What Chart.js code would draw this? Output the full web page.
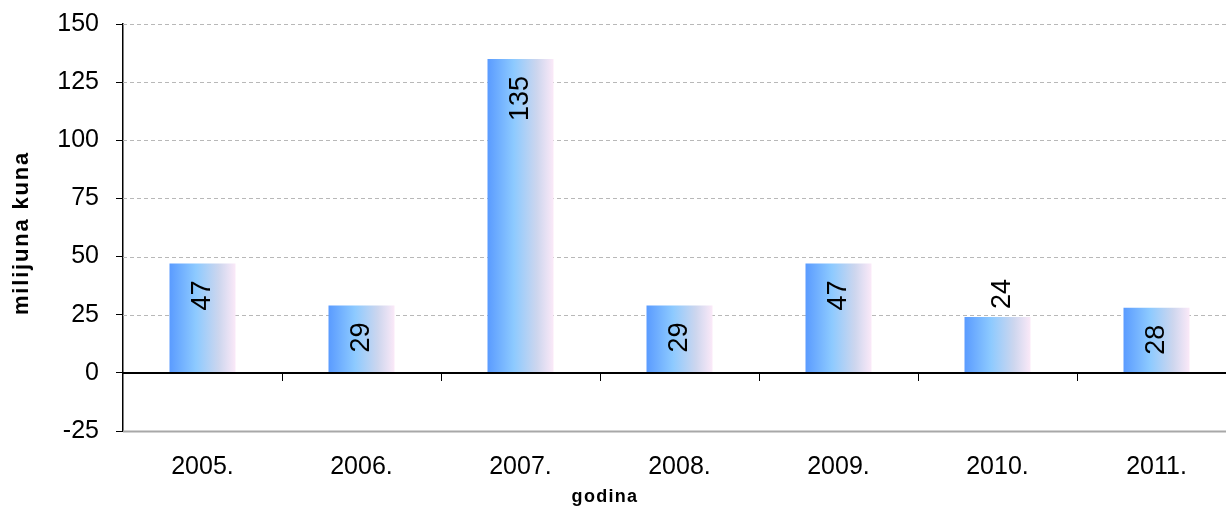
<!DOCTYPE html>
<html lang="hr">
<head>
    <meta charset="UTF-8">
    <title>milijuna kuna</title>
    <script src="https://cdn.jsdelivr.net/npm/chart.js"></script>
    <style>
        html, body { margin: 0; padding: 0; overflow: hidden; background: #fff; }
        canvas { display: block; }
    </style>
</head>
<body>
    <canvas id="barChart" width="1240" height="508"></canvas>
</body>
</html>
<script>
// data
var years = ['2005.', '2006.', '2007.', '2008.', '2009.', '2010.', '2011.'];
var values = [47, 29, 135, 29, 47, 24, 28];
var yTicks = [-25, 0, 25, 50, 75, 100, 125, 150];

// where each value label sits: inside the bar top or just above it
var labelSpot = ['in', 'in', 'in', 'in', 'in', 'out', 'in'];

var FONT = '"Liberation Sans", Arial, sans-serif';

function barFill(c) {
    var ch = c.chart;
    if (!ch.chartArea) return '#8ecaff';
    var xs = ch.scales.x;
    var cx = xs.getPixelForValue(c.dataIndex);
    var half = (xs.width / years.length) * 0.415 / 2;
    var g = ch.ctx.createLinearGradient(cx - half, 0, cx + half, 0);
    g.addColorStop(0, '#5a9bff');
    g.addColorStop(0.4, '#8dcaff');
    g.addColorStop(0.75, '#cdd6ee');
    g.addColorStop(1, '#fbe9f8');
    return g;
}

// grid lines, zero line, category ticks and axis titles
var decor = {
    id: 'decor',
    beforeDatasetsDraw: function (chart) {
        var ctx = chart.ctx, a = chart.chartArea, ys = chart.scales.y;
        ctx.save();
        yTicks.forEach(function (v) {
            var y = Math.round(ys.getPixelForValue(v)) + 0.5;
            if (v === 0) return;
            ctx.beginPath();
            if (v === yTicks[0]) {
                ctx.setLineDash([]);
                ctx.strokeStyle = '#a8a8a8';
                ctx.lineWidth = 2;
            } else {
                ctx.setLineDash([4, 3]);
                ctx.strokeStyle = '#b8b8b8';
                ctx.lineWidth = 1;
            }
            ctx.moveTo(a.left, y);
            ctx.lineTo(a.right, y);
            ctx.stroke();
        });
        ctx.restore();
    },
    afterDatasetsDraw: function (chart) {
        var ctx = chart.ctx, a = chart.chartArea, ys = chart.scales.y, xs = chart.scales.x;
        var y0 = Math.round(ys.getPixelForValue(0));
        ctx.save();
        ctx.setLineDash([]);
        ctx.strokeStyle = '#000';
        ctx.lineWidth = 2;
        ctx.beginPath();
        ctx.moveTo(a.left, y0);
        ctx.lineTo(a.right, y0);
        ctx.stroke();
        // category boundary ticks under the zero line
        ctx.lineWidth = 1;
        var step = xs.width / years.length;
        for (var i = 1; i < years.length; i++) {
            var x = Math.round(a.left + step * i) + 0.5;
            ctx.beginPath();
            ctx.moveTo(x, y0);
            ctx.lineTo(x, y0 + 8);
            ctx.stroke();
        }
        // value labels, rotated
        var meta = chart.getDatasetMeta(0);
        ctx.fillStyle = '#000';
        ctx.font = '27px ' + FONT;
        ctx.textAlign = 'center';
        ctx.textBaseline = 'middle';
        meta.data.forEach(function (el, i) {
            var txt = String(values[i]);
            var w = ctx.measureText(txt).width;
            var cy = labelSpot[i] === 'in' ? el.y + 17 + w / 2 : el.y - 8 - w / 2;
            var cx = labelSpot[i] === 'in' ? el.x : el.x + 5;
            ctx.save();
            ctx.translate(cx, cy);
            ctx.rotate(-Math.PI / 2);
            ctx.fillText(txt, 0, 0);
            ctx.restore();
        });
        ctx.restore();
    },
    afterDraw: function (chart) {
        var ctx = chart.ctx;
        ctx.save();
        ctx.fillStyle = '#000';
        ctx.textAlign = 'center';
        ctx.textBaseline = 'middle';
        ctx.letterSpacing = '1.8px';
        ctx.font = 'bold 22px ' + FONT;
        ctx.translate(22, 233);
        ctx.rotate(-Math.PI / 2);
        ctx.fillText('milijuna kuna', 0, 0);
        ctx.restore();
        ctx.save();
        ctx.fillStyle = '#000';
        ctx.textAlign = 'center';
        ctx.textBaseline = 'middle';
        ctx.letterSpacing = '1.3px';
        ctx.font = 'bold 18px ' + FONT;
        ctx.fillText('godina', 605, 497);
        ctx.restore();
    }
};

var ctx = document.getElementById('barChart').getContext('2d');

var myBarChart = new Chart(ctx, {
    type: 'bar',
    data: {
        labels: years,
        datasets: [{
            data: values,
            backgroundColor: barFill,
            borderWidth: 0,
            categoryPercentage: 1,
            barPercentage: 0.415
        }]
    },
    options: {
        responsive: false,
        animation: false,
        layout: { padding: { top: 24, right: 4, left: 0, bottom: 0 } },
        plugins: {
            legend: { display: false },
            tooltip: { enabled: false }
        },
        scales: {
            x: {
                grid: { display: false, drawTicks: false },
                border: { display: false },
                ticks: {
                    color: '#000',
                    font: { family: FONT, size: 25 },
                    padding: 21,
                    maxRotation: 0
                },
                afterFit: function (s) {
                    s.height = 77;
                    s.paddingLeft = 0;
                    s.paddingRight = 0;
                }
            },
            y: {
                min: -25,
                max: 150,
                afterBuildTicks: function (s) {
                    s.ticks = yTicks.map(function (v) { return { value: v }; });
                },
                grid: {
                    drawOnChartArea: false,
                    drawTicks: true,
                    tickLength: 7,
                    color: '#000'
                },
                border: { display: true, color: '#000', width: 1.5 },
                ticks: {
                    color: '#000',
                    font: { family: FONT, size: 25 },
                    padding: 17
                },
                afterFit: function (s) {
                    s.width = 123;
                    s.paddingTop = 0;
                    s.paddingBottom = 0;
                }
            }
        }
    },
    plugins: [decor]
});
</script>
